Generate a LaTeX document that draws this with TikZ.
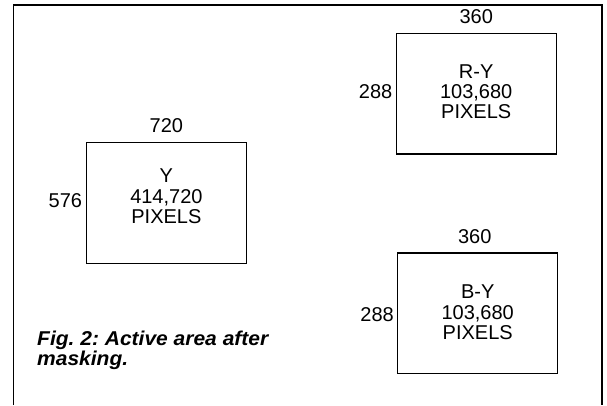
\documentclass[tikz,border=0pt]{standalone}
\usepackage{fontspec}
\setmainfont{Liberation Sans}
\newfontfamily\captionfont{Liberation Sans}[FakeStretch=1.05]
\usepackage{tikz}
\usetikzlibrary{positioning}
\frenchspacing
\tikzset{
    pixbox/.style={draw, line width=1.3pt, minimum width=160pt, minimum height=120.5pt, inner sep=0pt},
    pixtext/.style={align=center, inner sep=0pt, font=\fontsize{20}{20.3}\selectfont},
    dimlabel/.style={inner sep=0pt, font=\fontsize{20}{20.3}\selectfont}
}
\begin{document}
\begin{tikzpicture}[
        x=1pt, y=1pt,
        frameline/.style={line width=1.4pt},
        figcaption/.style={anchor=base west, align=left, inner sep=0pt, font=\captionfont\fontsize{20}{19.7}\selectfont\bfseries\itshape}
    ]
        \useasboundingbox (0,0) rectangle (607,405);
        \draw[frameline] (13.5,0) -- (13.5,400) -- (602,400) -- (602,0);

        \node[pixbox] (ybox) at (166.4,202.1) {};
        \node[pixbox] (rybox) at (476.2,311.2) {};
        \node[pixbox] (bybox) at (477.7,91.7) {};

        \node[pixtext] (ytext) at ([yshift=6.5pt]ybox.center) {Y\\414,720\\PIXELS};
        \node[pixtext] (rytext) at ([yshift=2pt]rybox.center) {R-Y\\103,680\\PIXELS};
        \node[pixtext] (bytext) at ([yshift=1pt]bybox.center) {B-Y\\103,680\\PIXELS};

        \node[dimlabel, above=9.5pt of ybox] (ywidth) {720};
        \node[dimlabel, left=3.5pt of ybox, yshift=2pt] (yheight) {576};
        \node[dimlabel, above=9pt of rybox] (rywidth) {360};
        \node[dimlabel, left=3pt of rybox, yshift=2pt] (ryheight) {288};
        \node[dimlabel, above=9pt of bybox, xshift=-3pt] (bywidth) {360};
        \node[dimlabel, left=3pt of bybox, yshift=-1pt] (byheight) {288};

        \node[figcaption] (caption) at (37,39.5) {Fig. 2: Active area after\\masking.};
    \end{tikzpicture}
\end{document}
